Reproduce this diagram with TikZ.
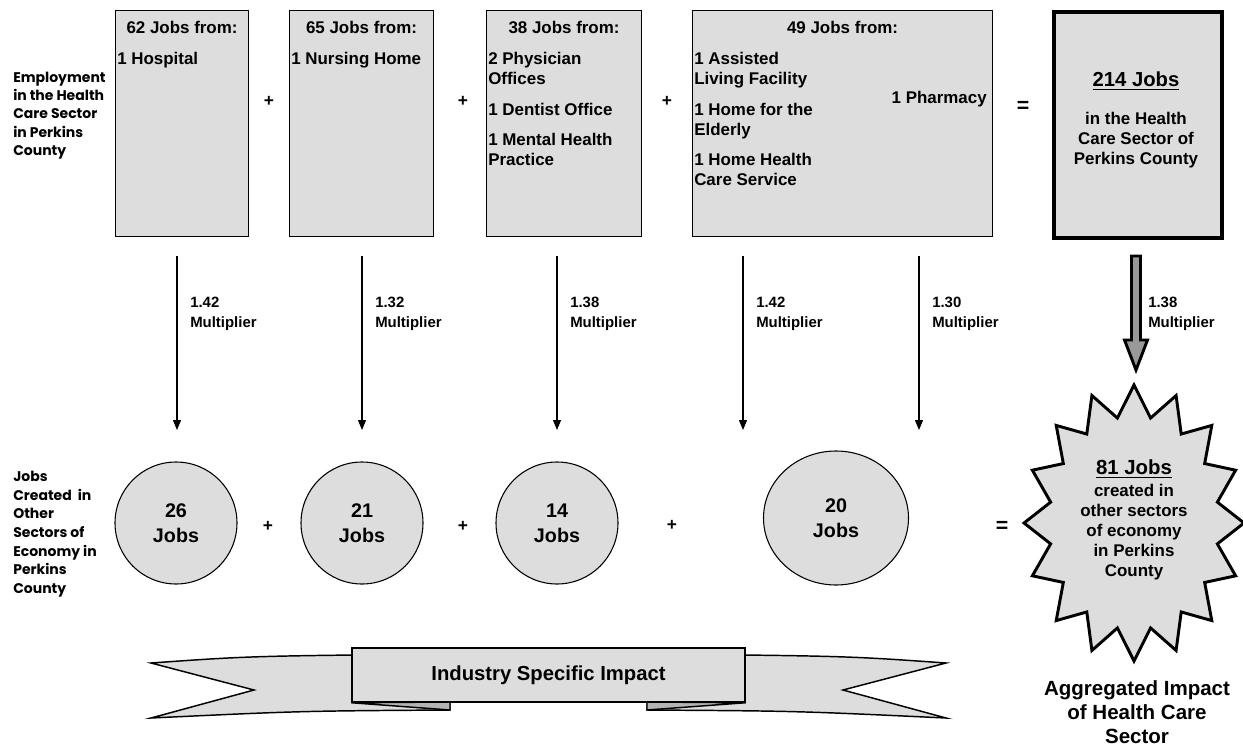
\documentclass[tikz,border=0pt]{standalone}
\usepackage{fontspec}
\setmainfont{Liberation Sans}
\newfontfamily\gothic{Poppins}
\usetikzlibrary{arrows.meta,positioning,shapes.geometric,calc}
\definecolor{boxgray}{HTML}{DDDDDD}
\definecolor{foldgray}{HTML}{B4B4B4}
\definecolor{fatgray}{HTML}{999999}

\begin{document}
\begin{tikzpicture}[x=0.75pt,y=-0.75pt,>={Triangle[width=6pt,length=7.5pt]}]
\tikzstyle{box}=[rectangle,draw,fill=boxgray,line width=0.8pt,anchor=north west,inner sep=0pt,minimum height=226*0.75pt]
\tikzstyle{head}=[font=\bfseries\fontsize{12.7}{15}\selectfont,inner sep=0pt]
\tikzstyle{items}=[head,align=left,anchor=north west]
\tikzstyle{sym}=[font=\bfseries\fontsize{13}{15}\selectfont,inner sep=0pt]
\tikzstyle{mult}=[font=\bfseries\fontsize{11.2}{14.6}\selectfont,align=left,anchor=north west,inner sep=0pt]
\tikzstyle{side}=[font=\gothic\bfseries\fontsize{10.5}{13.6}\selectfont,align=left,anchor=north west,inner sep=0pt]
\tikzstyle{jobs}=[circle,draw,fill=boxgray,line width=0.8pt,minimum size=122*0.75pt,inner sep=0pt,align=center,font=\bfseries\fontsize{14.8}{18.5}\selectfont]
\tikzstyle{arr}=[->,line width=0.8pt]
\tikzstyle{ribbon}=[draw,fill=boxgray,line width=1.1pt,line join=miter]
\useasboundingbox (0,0) rectangle (1243,746);

\node[side] (emp) at (13,72) {Employment\\in the Health\\Care Sector\\in Perkins\\County};
\node[side,font=\gothic\bfseries\fontsize{10.5}{14}\selectfont] (oth) at (13,471) {Jobs\\Created\ \ in\\Other\\Sectors of\\Economy in\\Perkins\\County};

\node[box,minimum width=133*0.75pt] (b1) at (115,10) {};
\node[box,minimum width=144*0.75pt] (b2) at (289,10) {};
\node[box,minimum width=155*0.75pt] (b3) at (486,10) {};
\node[box,minimum width=300*0.75pt] (b4) at (692,10) {};
\node[box,minimum width=168*0.75pt,line width=3pt] (b5) at (1052,10) {};

\node[head] (b1t) at ($(b1.north)+(0,17)$) {62 Jobs from:};
\node[head] (b2t) at ($(b2.north)+(0,17)$) {65 Jobs from:};
\node[head] (b3t) at ($(b3.north)+(0,17)$) {38 Jobs from:};
\node[head] (b4t) at ($(b4.north)+(0,17)$) {49 Jobs from:};
\node[items] (b1i) at ($(b1.north west)+(2,42)$) {1 Hospital};
\node[items] (b2i) at ($(b2.north west)+(2,42)$) {1 Nursing Home};
\node[items] (b3i) at ($(b3.north west)+(2,42)$) {2 Physician\\Offices\\[8pt]1 Dentist Office\\[8pt]1 Mental Health\\Practice};
\node[items] (b4i) at ($(b4.north west)+(2,42)$) {1 Assisted\\Living Facility\\[8pt]1 Home for the\\Elderly\\[8pt]1 Home Health\\Care Service};
\node[head,anchor=east] (b4p) at (987,99) {1 Pharmacy};
\node[head,font=\bfseries\fontsize{15.2}{18}\selectfont] (b5t) at (1136,81) {\underline{214 Jobs}};
\node[head,align=center] (b5i) at (1136,140) {in the Health\\Care Sector of\\Perkins County};

\node[sym] (p1) at (269,101) {+};
\node[sym] (p2) at (463,101) {+};
\node[sym] (p3) at (667,101) {+};
\node[sym,font=\bfseries\fontsize{16}{18}\selectfont] (eq1) at (1023,107) {=};

\foreach \x/\n in {177/1,362/2,557/3,743/4,919/5} {
  \coordinate (top\n) at (\x,256);
  \coordinate (bot\n) at (\x,430);
  \draw[arr] (top\n) -- (bot\n);
}
\node[mult] (m1) at (190,297) {1.42\\Multiplier};
\node[mult] (m2) at (375,297) {1.32\\Multiplier};
\node[mult] (m3) at (570,297) {1.38\\Multiplier};
\node[mult] (m4) at (756,297) {1.42\\Multiplier};
\node[mult] (m5) at (932,297) {1.30\\Multiplier};
\node[mult] (m6) at (1148,297) {1.38\\Multiplier};

\coordinate (fat) at (1136,256);
\draw[fill=fatgray,line width=2.2pt,line join=miter] (fat) ++(-4.5,0) -- ++(9,0) -- ++(0,84) -- ++(7,0) -- ++(-11.5,30) -- ++(-11.5,-30) -- ++(7,0) -- cycle;

\node[jobs] (c1) at (176,523) {26\\Jobs};
\node[jobs] (c2) at (362,523) {21\\Jobs};
\node[jobs] (c3) at (557,523) {14\\Jobs};
\node[jobs,ellipse,minimum width=145*0.75pt,minimum height=134*0.75pt] (c4) at (836,518) {20\\Jobs};
\node[sym] (q1) at (268,526) {+};
\node[sym] (q2) at (463,526) {+};
\node[sym] (q3) at (672,525) {+};
\node[sym,font=\bfseries\fontsize{16}{18}\selectfont] (eq2) at (1002,527) {=};

\coordinate (sc) at (1134,523);
\draw[fill=boxgray,line width=2.2pt,line join=miter] ([shift={(0:110 and 138)}]sc)
  \foreach \i in {0,...,15} { -- ([shift={(\i*22.5+11.25:85 and 107)}]sc) -- ([shift={(\i*22.5+22.5:110 and 138)}]sc) } -- cycle;
\node[head,align=center] (burst) at (1134,520) {{\fontsize{15.3}{15}\selectfont\underline{81 Jobs}}\\[1pt]created in\\other sectors\\of economy\\in Perkins\\County};
\node[head,align=center,font=\bfseries\fontsize{15.4}{18}\selectfont] (agg) at (1137,712) {Aggregated Impact\\of Health Care\\Sector};

\draw[ribbon] (450,710) .. controls (300,711) .. (151,718) -- (254,690) -- (151,663) .. controls (250,656) .. (450,654) -- cycle;
\draw[ribbon] (647,710) .. controls (797,711) .. (946,718) -- (843,690) -- (946,663) .. controls (847,656) .. (647,654) -- cycle;
\node[rectangle,draw,fill=boxgray,line width=1.1pt,minimum width=393*0.75pt,minimum height=54*0.75pt,inner sep=0pt,font=\bfseries\fontsize{15.2}{18}\selectfont] (ban) at (548.5,675) {Industry Specific Impact};
\draw[fill=foldgray,line width=1.1pt] (ban.south west) -- (450,702) -- (450,710) -- cycle;
\draw[fill=foldgray,line width=1.1pt] (ban.south east) -- (647,702) -- (647,710) -- cycle;
\end{tikzpicture}
\end{document}
